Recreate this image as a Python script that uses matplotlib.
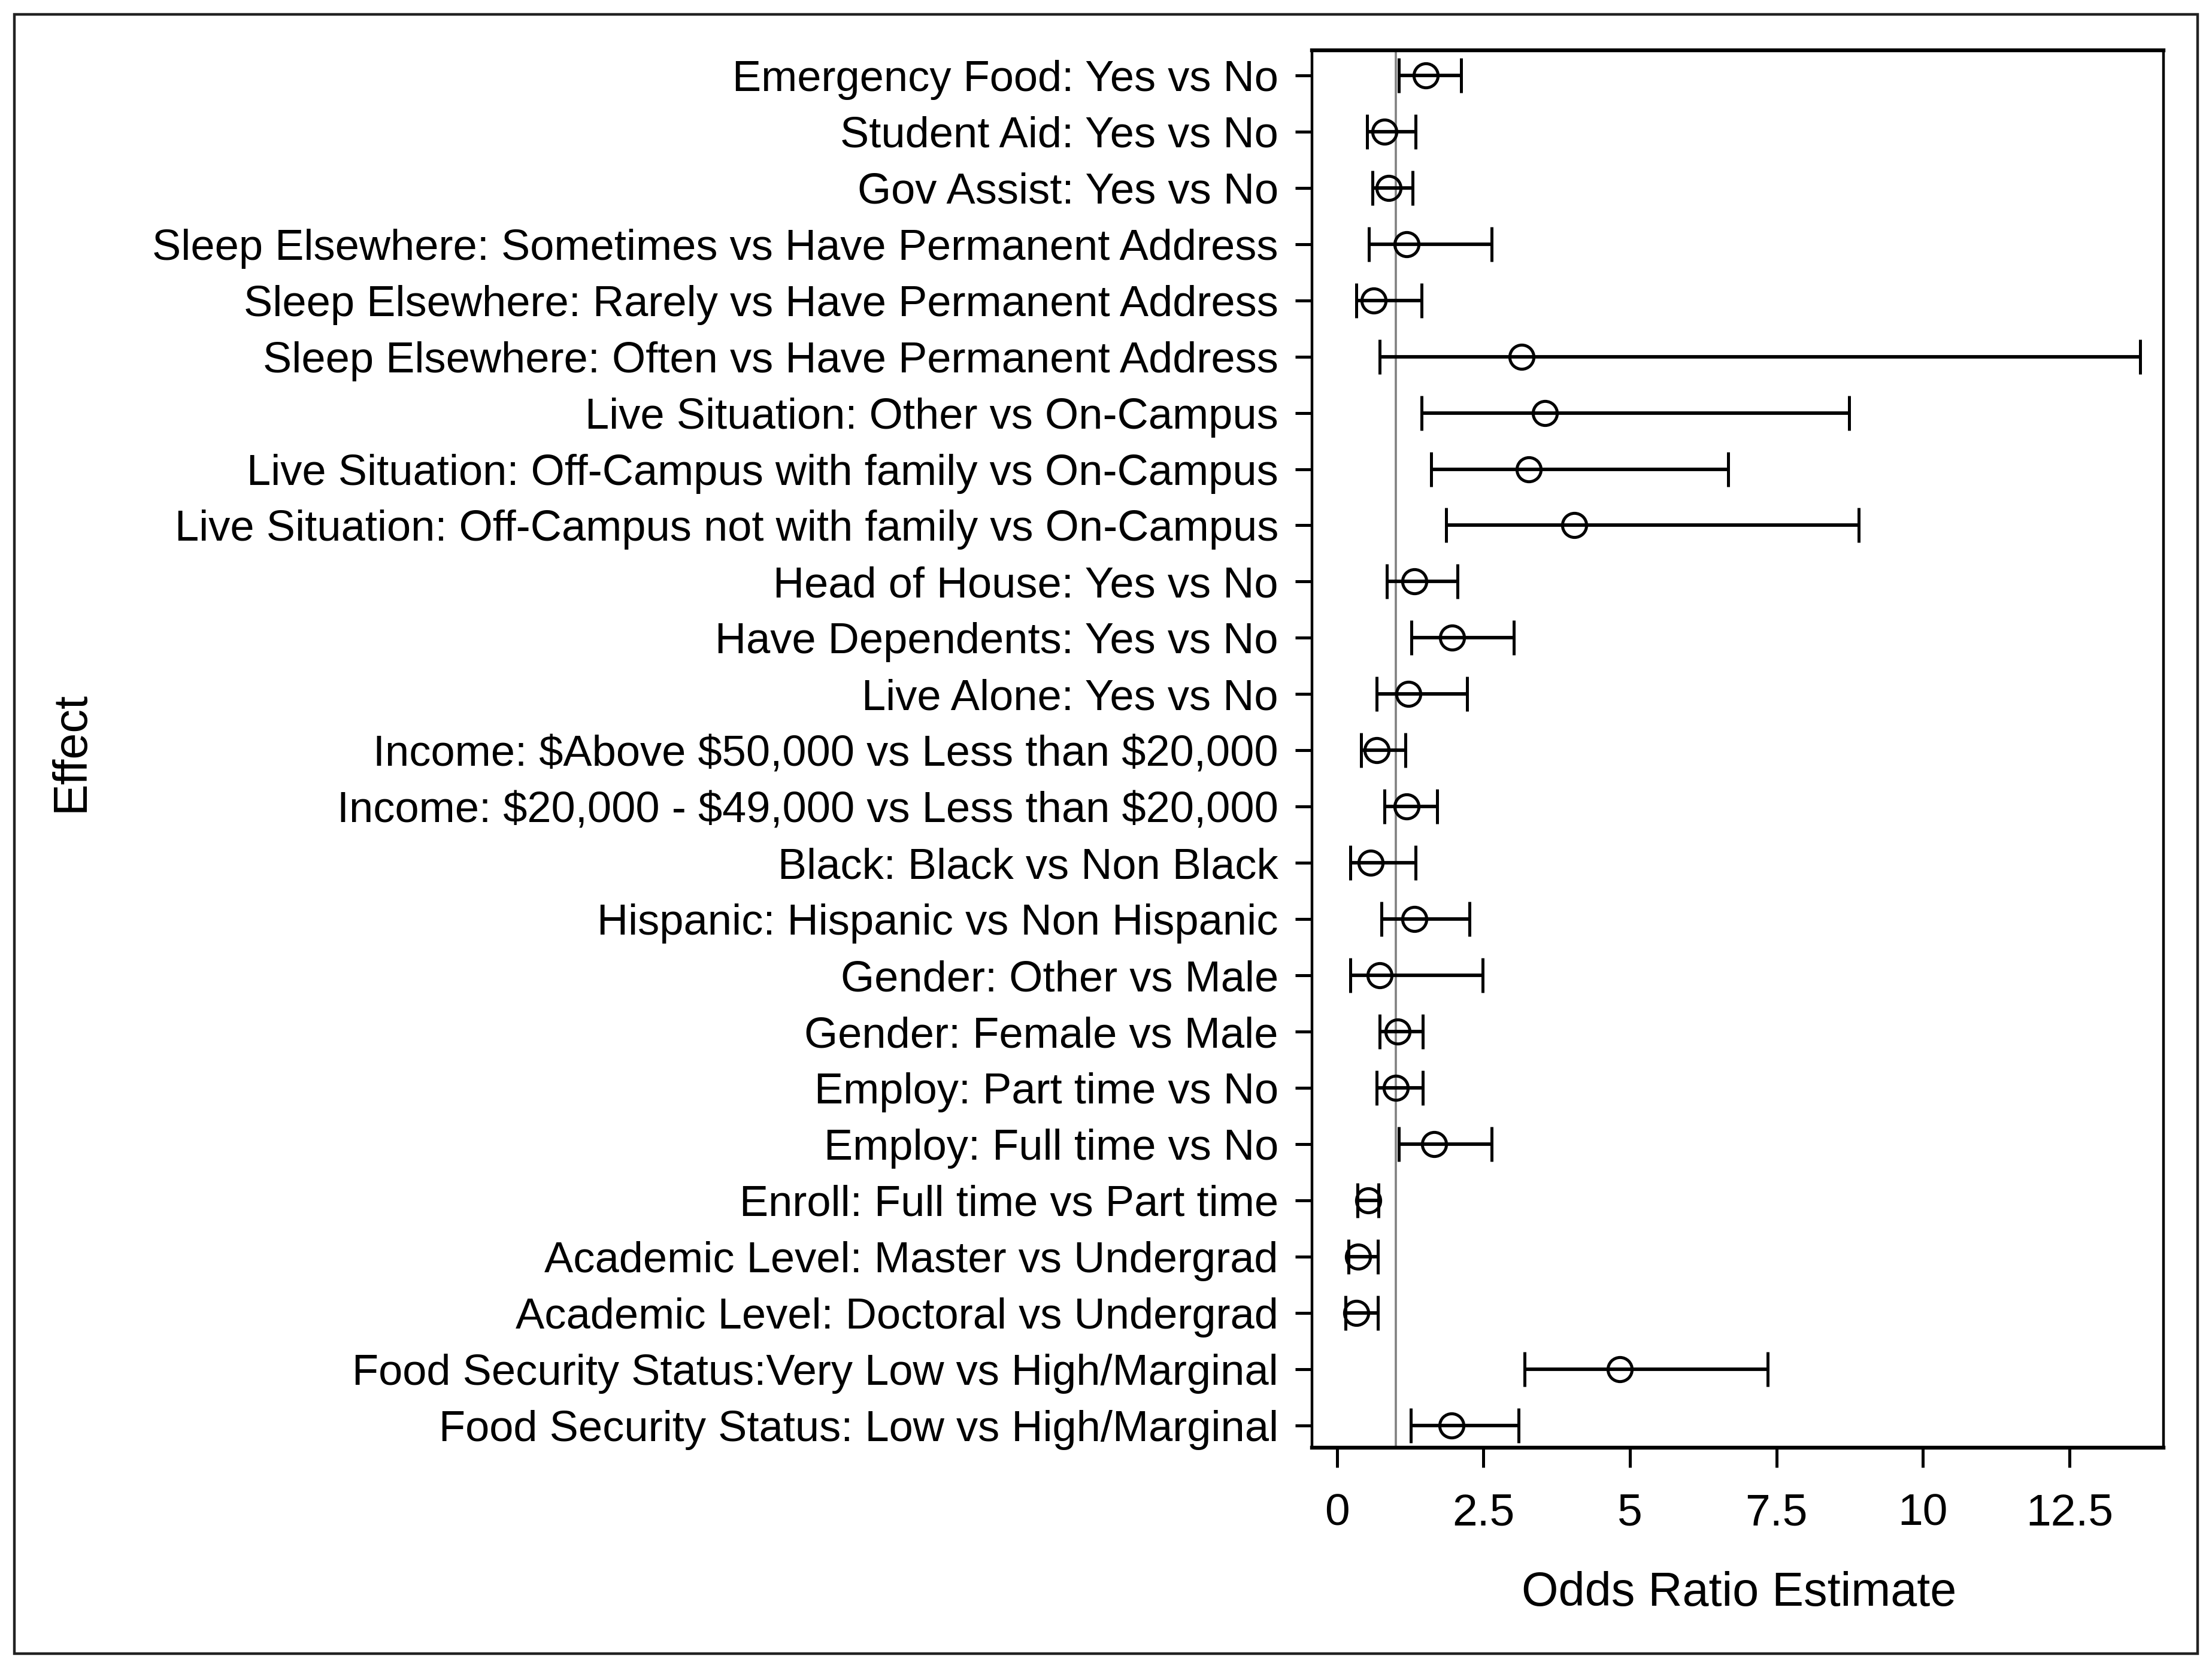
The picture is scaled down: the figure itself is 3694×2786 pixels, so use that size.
import matplotlib
matplotlib.use('Agg')
import matplotlib.pyplot as plt
import numpy as np
from matplotlib.patches import Rectangle

# effects listed top to bottom as in the figure
effects = ['Emergency Food: Yes vs No',
           'Student Aid: Yes vs No',
           'Gov Assist: Yes vs No',
           'Sleep Elsewhere: Sometimes vs Have Permanent Address',
           'Sleep Elsewhere: Rarely vs Have Permanent Address',
           'Sleep Elsewhere: Often vs Have Permanent Address',
           'Live Situation: Other vs On-Campus',
           'Live Situation: Off-Campus with family vs On-Campus',
           'Live Situation: Off-Campus not with family vs On-Campus',
           'Head of House: Yes vs No',
           'Have Dependents: Yes vs No',
           'Live Alone: Yes vs No',
           'Income: $Above $50,000 vs Less than $20,000',
           'Income: $20,000 - $49,000 vs Less than $20,000',
           'Black: Black vs Non Black',
           'Hispanic: Hispanic vs Non Hispanic',
           'Gender: Other vs Male',
           'Gender: Female vs Male',
           'Employ: Part time vs No',
           'Employ: Full time vs No',
           'Enroll: Full time vs Part time',
           'Academic Level: Master vs Undergrad',
           'Academic Level: Doctoral vs Undergrad',
           'Food Security Status:Very Low vs High/Marginal',
           'Food Security Status: Low vs High/Marginal']

odds_ratio = [1.52, 0.81, 0.88, 1.19, 0.63, 3.15, 3.55, 3.27, 4.05, 1.32, 1.97, 1.22,
              0.68, 1.19, 0.58, 1.32, 0.73, 1.04, 1.00, 1.66, 0.53, 0.36, 0.33, 4.83, 1.96]
lower_ci = [1.06, 0.51, 0.61, 0.55, 0.33, 0.73, 1.44, 1.61, 1.86, 0.85, 1.27, 0.68,
            0.41, 0.81, 0.23, 0.76, 0.23, 0.73, 0.68, 1.06, 0.35, 0.20, 0.15, 3.20, 1.26]
upper_ci = [2.12, 1.34, 1.29, 2.64, 1.44, 13.70, 8.74, 6.68, 8.90, 2.06, 3.02, 2.22,
            1.17, 1.71, 1.34, 2.26, 2.49, 1.46, 1.46, 2.64, 0.71, 0.70, 0.70, 7.35, 3.10]

x_ticks = [0, 2.5, 5, 7.5, 10, 12.5]
x_tick_labels = ['0', '2.5', '5', '7.5', '10', '12.5']


def main():
    plt.rcParams['font.family'] = ['Liberation Sans', 'DejaVu Sans']
    fig = plt.figure(figsize=(36.94, 27.86), dpi=100)
    ax = fig.add_axes([0.593, 0.132, 0.385, 0.838])

    y = np.arange(len(effects))
    est = np.array(odds_ratio)
    err = np.vstack([est - np.array(lower_ci), np.array(upper_ci) - est])

    ax.axvline(1, color='#808080', lw=2.6, zorder=1)
    ax.errorbar(est, y, xerr=err, fmt='o', mfc='none', mec='black', mew=3.6, ms=29,
                ecolor='black', elinewidth=4.2, capsize=21, capthick=4.0, zorder=3)

    ax.set_yticks(y)
    ax.set_yticklabels(effects, fontsize=52)
    ax.set_ylim(len(effects) - 0.6, -0.45)
    ax.set_xlim(-0.43, 14.1)
    ax.set_xticks(x_ticks)
    ax.set_xticklabels(x_tick_labels, fontsize=54)

    ax.tick_params(axis='y', length=20, width=3.6, pad=20)
    ax.tick_params(axis='x', length=24, width=3.6, pad=30)
    for side in ['left', 'right']:
        ax.spines[side].set_linewidth(3.2)
    for side in ['top', 'bottom']:
        ax.spines[side].set_linewidth(4.6)

    ax.set_xlabel('Odds Ratio Estimate', fontsize=57)
    ax.xaxis.set_label_coords(0.502, -0.088)
    ax.set_ylabel('Effect', fontsize=57)
    ax.yaxis.set_label_coords(-1.43, 0.498)

    # thin frame around the whole figure
    fig.patches.append(Rectangle((0.0064, 0.0085), 0.9872, 0.983, transform=fig.transFigure,
                                 fill=False, edgecolor='#222222', lw=3.2))

    fig.savefig('out.png', dpi=100)


if __name__ == '__main__':
    main()
